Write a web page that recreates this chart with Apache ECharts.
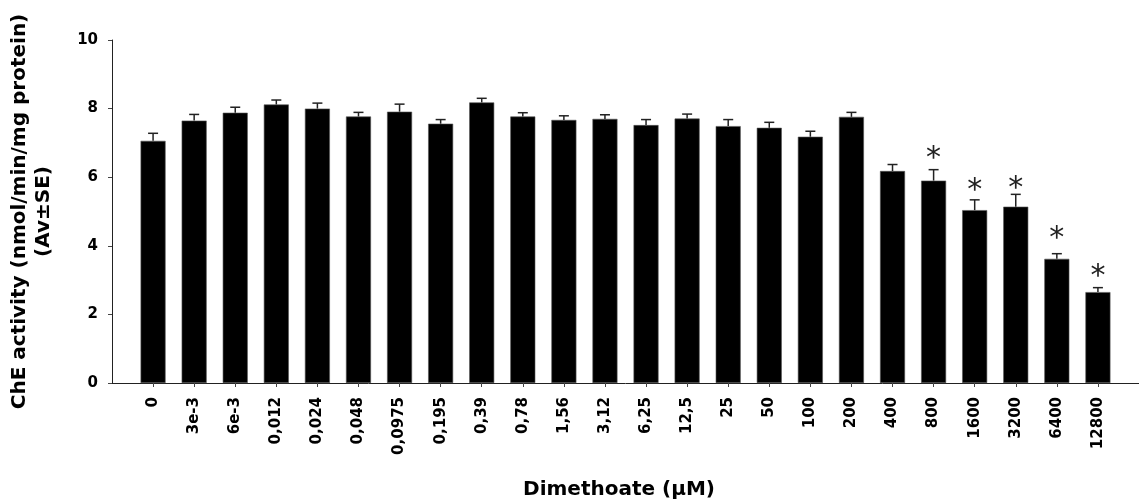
<!DOCTYPE html>
<html>
<head>
<meta charset="utf-8">
<script src="https://cdn.jsdelivr.net/npm/echarts@6/dist/echarts.min.js"></script>
<style>
html,body{margin:0;padding:0;background:#fff;}
#chart{width:1139px;height:504px;}
</style>
</head>
<body>
<div id="chart"></div>
<script>
// ---- data ----
const categories = ['0','3e-3','6e-3','0,012','0,024','0,048','0,0975','0,195','0,39','0,78','1,56','3,12','6,25','12,5','25','50','100','200','400','800','1600','3200','6400','12800'];
const activity = [7.06,7.65,7.88,8.12,8.00,7.77,7.91,7.56,8.18,7.77,7.67,7.70,7.52,7.71,7.49,7.44,7.18,7.76,6.18,5.90,5.04,5.14,3.62,2.65];
const stdErr   = [0.22,0.18,0.16,0.13,0.16,0.12,0.22,0.12,0.12,0.11,0.12,0.12,0.16,0.13,0.19,0.16,0.16,0.13,0.19,0.32,0.30,0.36,0.15,0.13];
// significance markers: category and height (in axis units) of the asterisk
const sigCategories = ['800','1600','3200','6400','12800'];
const sigHeights    = [6.65,5.71,5.77,4.31,3.21];
const yTicks = [0,2,4,6,8,10];

// axis padded with an empty slot on each side
const axisCats = [''].concat(categories, ['']);
const barData = [null].concat(activity, [null]);
const errData = activity.map((v,i)=>[i+1, v, stdErr[i]]);
const sigData = sigCategories.map((c,i)=>[categories.indexOf(c)+1, sigHeights[i]]);

const FONT = 'DejaVu Sans';
const STAR = 30;
const chart = echarts.init(document.getElementById('chart'), null, {renderer:'canvas'});
chart.setOption({
  animation:false,
  backgroundColor:'#ffffff',
  grid:{left:111, top:40, height:343, width:1039},
  xAxis:{
    type:'category', data:axisCats, boundaryGap:false,
    axisLine:{show:true, lineStyle:{color:'#222', width:1}},
    axisTick:{show:true, length:4, alignWithLabel:true, inside:false,
      interval:function(idx,val){return val!=='';}, lineStyle:{color:'#444'}},
    axisLabel:{rotate:90, interval:0, margin:14, color:'#000',
      fontFamily:FONT, fontWeight:'bold', fontSize:15},
    splitLine:{show:false}
  },
  yAxis:{
    type:'value', min:0, max:10, interval:2,
    name:'ChE activity (nmol/min/mg protein)\n(Av±SE)',
    nameLocation:'middle', nameGap:56, nameRotate:90,
    nameTextStyle:{fontFamily:FONT, fontWeight:'bold', fontSize:20, color:'#000', lineHeight:24},
    axisLine:{show:true, lineStyle:{color:'#222', width:1}},
    axisTick:{show:true, length:4, lineStyle:{color:'#444'}},
    axisLabel:{margin:14, color:'#000', fontFamily:FONT, fontWeight:'bold', fontSize:15,
      formatter:function(v){return yTicks.indexOf(v)>=0 ? String(v) : '';}},
    splitLine:{show:false}
  },
  graphic:[{
    type:'text', x:619, y:490,
    style:{text:'Dimethoate (µM)', font:'bold 20px "DejaVu Sans"', fill:'#000',
      textAlign:'center', textVerticalAlign:'middle', align:'center', verticalAlign:'middle'}
  }],
  series:[
    {type:'bar', data:barData, barWidth:25,
     itemStyle:{color:'#000', borderColor:'#555', borderWidth:0.6}, z:2},
    {type:'custom', data:errData, z:3,
     renderItem:function(params, api){
       const x = api.value(0), v = api.value(1), se = api.value(2);
       const p0 = api.coord([x, v]);
       const p1 = api.coord([x, v+se]);
       const hw = 5;
       return {type:'group', children:[
         {type:'line', shape:{x1:p0[0], y1:p0[1], x2:p1[0], y2:p1[1]}, style:{stroke:'#222', lineWidth:1.5}},
         {type:'line', shape:{x1:p1[0]-hw, y1:p1[1], x2:p1[0]+hw, y2:p1[1]}, style:{stroke:'#222', lineWidth:1.5}}
       ]};
     }},
    {type:'custom', data:sigData, z:4,
     renderItem:function(params, api){
       const p = api.coord([api.value(0), api.value(1)]);
       return {type:'text', x:p[0], y:p[1]+0.15*STAR,
         style:{text:'*', font:STAR+'px "DejaVu Sans"', fill:'#222',
           textAlign:'center', textVerticalAlign:'middle', align:'center', verticalAlign:'middle'}};
     }}
  ]
});
</script>
</body>
</html>
